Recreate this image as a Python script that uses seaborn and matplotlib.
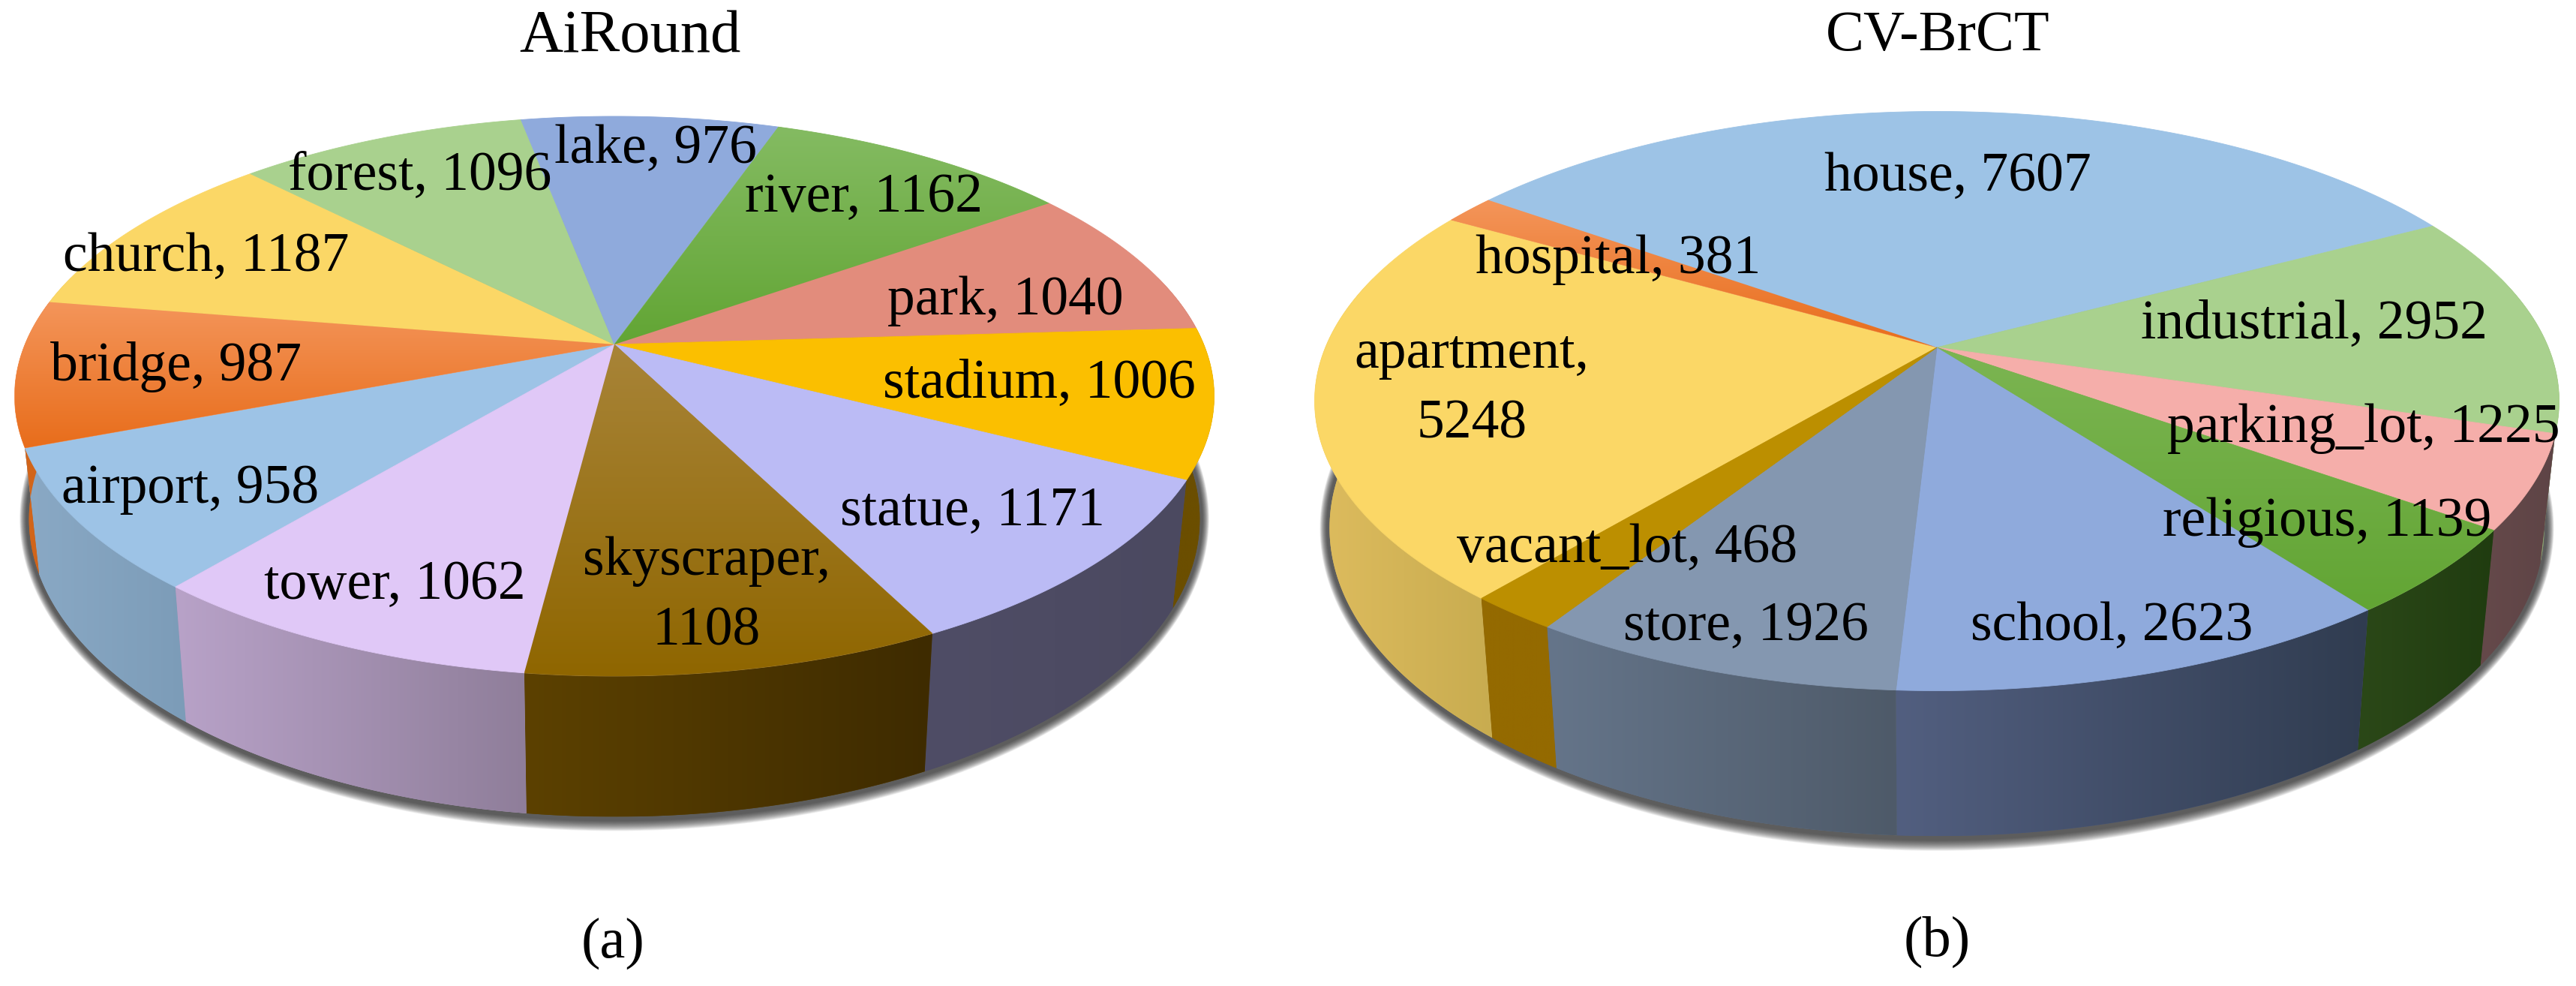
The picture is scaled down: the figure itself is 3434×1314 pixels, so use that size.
import numpy as np
import matplotlib
matplotlib.use('Agg')
import matplotlib.pyplot as plt
import seaborn as sns
from matplotlib.colors import to_rgb
from matplotlib.patches import Polygon
from matplotlib.path import Path
from matplotlib.transforms import Transform

# data
air_names = ['airport', 'bridge', 'church', 'forest', 'lake', 'river',
             'park', 'stadium', 'statue', 'skyscraper', 'tower']
air_values = [958, 987, 1187, 1096, 976, 1162, 1040, 1006, 1171, 1108, 1062]

cv_names = ['apartment', 'hospital', 'house', 'industrial', 'parking_lot',
            'religious', 'school', 'store', 'vacant_lot']
cv_values = [5248, 381, 7607, 2952, 1225, 1139, 2623, 1926, 468]

START = 230.3

# top colour (start, end of vertical gradient)
air_top = [('#9dc3e6', '#9dc3e6'), ('#f4955a', '#e86d1b'), ('#fbd766', '#fbd766'),
           ('#a9d18e', '#a9d18e'), ('#8faadc', '#8faadc'), ('#84bb62', '#62a534'),
           ('#e28c7c', '#e28c7c'), ('#fbbf00', '#fbbf00'), ('#bbbbf5', '#bbbbf5'),
           ('#a88438', '#8f6600'), ('#e0c8f7', '#e0c8f7')]
# wall colour (left, right of horizontal gradient)
air_wall = [('#8aa9c5', '#7c9cb8'), ('#d2651a', '#d2651a'), ('#d0b050', '#d0b050'),
            ('#8aa070', '#8aa070'), ('#7088b0', '#7088b0'), ('#4a7a30', '#4a7a30'),
            ('#a06a5c', '#a06a5c'), ('#6b4e00', '#6b4e00'), ('#4f4d66', '#4b4960'),
            ('#5c4100', '#3e2b00'), ('#b8a2c8', '#8f7e9a')]

cv_top = [('#fbd766', '#fbd766'), ('#f4955a', '#e86d1b'), ('#9dc3e6', '#9dc3e6'),
          ('#a9d18e', '#a9d18e'), ('#f5aeaa', '#f5aeaa'), ('#7cb552', '#62a534'),
          ('#8faadc', '#8faadc'), ('#8497b0', '#8497b0'), ('#bc8f00', '#bc8f00')]
cv_wall = [('#deBc5e', '#c8ac50'), ('#e96f1c', '#e96f1c'), ('#7c9cb8', '#7c9cb8'),
           ('#8aa070', '#8aa070'), ('#65494a', '#5e4446'), ('#2b4818', '#203c10'),
           ('#525f80', '#303c50'), ('#65758a', '#4e5a69'), ('#946a00', '#946a00')]

air_label_xy = [(254, 652), (234, 489), (275, 343), (560, 235), (874, 199), (1151, 264),
                (1340, 401), (1385, 512), (1296, 682), (942, 795), (526, 780)]
cv_label_xy = [(1962, 519), (2157, 346), (2610, 236), (3085, 433), (3151, 571),
               (3102, 696), (2815, 835), (2327, 835), (2169, 731)]


class Perspective(Transform):
    """unit circle of the pie -> pixels of the picture"""
    input_dims = 2
    output_dims = 2
    is_separable = False

    def __init__(self, cx, cy, half_w, up, down, drop):
        super().__init__()
        self.cx, self.cy = cx, cy
        self.drop = drop
        self.b = 2 / (1 / up + 1 / down)
        self.k = self.b * (1 / up - 1 / down) / 2
        self.a = half_w * np.sqrt(1 - self.k ** 2)

    def transform_non_affine(self, values):
        values = np.asarray(values, float)
        w = 1 + self.k * values[:, 1]
        return np.column_stack([self.cx + self.a * values[:, 0] / w,
                                self.cy - self.b * values[:, 1] / w])

    def transform_path_non_affine(self, path):
        pts = []
        for seg, code in path.iter_bezier():
            pts.append(seg(np.linspace(0, 1, 40)))
        return Path(self.transform_non_affine(np.vstack(pts)))

    def rim(self, degrees):
        t = np.radians(degrees)
        return self.transform_non_affine(np.column_stack([np.cos(t), np.sin(t)]))


def lower(p, xy):
    # rim of the bottom of the pie, a bit narrower and further down
    out = np.array(xy, float)
    out[:, 0] = p.cx + 0.976 * (out[:, 0] - p.cx)
    out[:, 1] = out[:, 1] + p.drop + 0.0633 * (out[:, 1] - 595)
    return out


def gradient(ax, box, c0, c1, horizontal, clip, zorder):
    f = np.linspace(0, 1, 256)[:, None]
    arr = (1 - f) * np.array(to_rgb(c0)) + f * np.array(to_rgb(c1))
    arr = arr[None, :, :] if horizontal else arr[:, None, :]
    im = ax.imshow(arr, extent=(box[0], box[1], box[3], box[2]), aspect='auto',
                   origin='upper', interpolation='bilinear', zorder=zorder)
    im.set_clip_path(clip)


def draw_pie(ax, values, top, wall, cx, cy, half_w, up, down, drop):
    p = Perspective(cx, cy, half_w, up, down, drop)
    tf = p + ax.transData

    # soft shadow under the pie
    tt = np.linspace(0, 360, 361)
    base = lower(p, p.rim(tt))
    for grow in np.linspace(1.016, 1.005, 15):
        xy = base.copy()
        xy[:, 0] = cx + grow * (xy[:, 0] - cx)
        ymid = (xy[:, 1].min() + xy[:, 1].max()) / 2
        xy[:, 1] = ymid + (1 + (grow - 1) * 3) * (xy[:, 1] - ymid)
        ax.add_patch(Polygon(xy, closed=True, fc='#202020', ec='none', alpha=0.08, zorder=0))

    wedges, _ = ax.pie(values, colors=sns.color_palette([c[0] for c in top]),
                       startangle=START, counterclock=False, radius=1)
    for w, (c0, c1), (w0, w1) in zip(wedges, top, wall):
        w.set_transform(tf)
        w.set_zorder(3)
        w.set_edgecolor(c0)
        w.set_linewidth(0.6)
        w.set_clip_on(False)

        # slice on the outside wall
        for shift in (0, 360):
            a = max(w.theta1 + shift, 165)
            b = min(w.theta2 + shift, 375)
            if a >= b:
                continue
            tr = p.rim(np.linspace(a, b, 80))
            xy = np.vstack([tr, lower(p, tr)[::-1]])
            patch = Polygon(xy, closed=True, fc=w0, ec='none', zorder=1)
            ax.add_patch(patch)
            gradient(ax, (xy[:, 0].min(), xy[:, 0].max(), xy[:, 1].min(), xy[:, 1].max()),
                     w0, w1, True, patch, 2)

        if c0 != c1:
            tr = p.rim(np.linspace(w.theta1, w.theta2, 60))
            xy = np.vstack([tr, [[cx, cy]]])
            gradient(ax, (xy[:, 0].min(), xy[:, 0].max(), xy[:, 1].min(), xy[:, 1].max()),
                     c0, c1, False, w, 4)


sns.set_style('white')
plt.rcParams['font.family'] = ['Liberation Serif', 'DejaVu Serif']

fig = plt.figure(figsize=(34.34, 13.14), dpi=100)
ax = fig.add_axes([0, 0, 1, 1])

draw_pie(ax, air_values, air_top, air_wall, 819, 459, 799.5, 304, 442, 168)
draw_pie(ax, cv_values, cv_top, cv_wall, 2582, 463, 829.5, 314.5, 457.5, 173)

ax.set_aspect('auto')
ax.set_xlim(0, 3434)
ax.set_ylim(1314, 0)
ax.axis('off')

FS = 53
for name, val, (x, y) in zip(air_names, air_values, air_label_xy):
    txt = f'{name},\n{val}' if name == 'skyscraper' else f'{name}, {val}'
    ax.text(x, y, txt, ha='center', va='center', fontsize=FS, color='black', zorder=6, linespacing=1.5)
for name, val, (x, y) in zip(cv_names, cv_values, cv_label_xy):
    txt = f'{name},\n{val}' if name == 'apartment' else f'{name}, {val}'
    ax.text(x, y, txt, ha='center', va='center', fontsize=FS, color='black', zorder=6, linespacing=1.5)

ax.text(840, 50, 'AiRound', ha='center', va='center', fontsize=58, color='black')
ax.text(2583, 48, 'CV-BrCT', ha='center', va='center', fontsize=55, color='black')
ax.text(817, 1257, '(a)', ha='center', va='center', fontsize=55, color='black')
ax.text(2582, 1255, '(b)', ha='center', va='center', fontsize=55, color='black')

fig.savefig('out.png', dpi=100)
